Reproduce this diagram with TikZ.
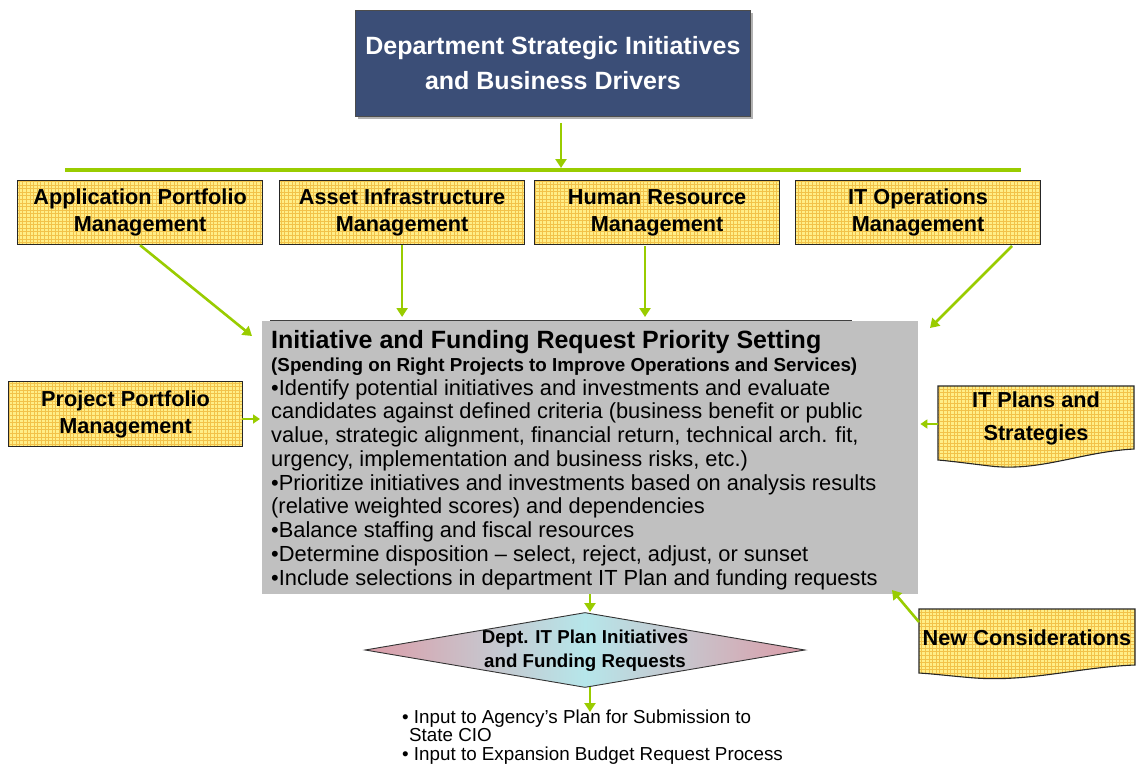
\documentclass[tikz,border=0pt]{standalone}
\usepackage{fontspec}
\setmainfont{Liberation Sans}
\usetikzlibrary{arrows.meta,shapes.geometric}
\definecolor{navy}{HTML}{3B4E77}
\definecolor{grn}{HTML}{99CC00}
\definecolor{yfill}{HTML}{FFEE88}
\definecolor{ygrid}{HTML}{F2C24A}
\definecolor{greyc}{HTML}{C0C0C0}
\definecolor{pinkc}{HTML}{DC9CA8}
\definecolor{cyanc}{HTML}{B6E6EA}
\tikzset{
  arr/.style={draw=grn, line width=2.6pt, -{Triangle[length=9pt,width=11pt]}},
  gridfill/.style={fill=yfill, path picture={\draw[ygrid, line width=0.35pt, step=3.6pt] (path picture bounding box.south west) grid (path picture bounding box.north east);}},
  ybox/.style={gridfill, draw=black!85, line width=1.2pt, align=center, inner sep=0,
    font=\bfseries\fontsize{21.7}{27}\selectfont, minimum width=245, minimum height=64, anchor=north west},
  ytext/.style={align=center, inner sep=0, font=\bfseries\fontsize{21.7}{33}\selectfont},
}
\begin{document}
\begin{tikzpicture}[x=1pt,y=-1pt]
\useasboundingbox (0,0) rectangle (1136,766);
% top box
\fill[gray!60] (358,13) rectangle (753,119);
\node[fill=navy, draw=black!70, line width=0.8pt, minimum width=395, minimum height=106, anchor=north west, inner sep=0,
  text=white, align=center, font=\bfseries\fontsize{25}{35}\selectfont] (top) at (355,10)
  {Department Strategic Initiatives\\and Business Drivers};
% bus
\coordinate (busL) at (65,170);
\coordinate (busR) at (1021,170);
\coordinate (bus) at (561,168);
\draw[grn, line width=3.8pt] (busL) -- (busR);
\draw[arr, shorten <=6pt] (top.south -| bus) -- (bus);
% four boxes
\node[ybox] (apm) at (17,180) {Application Portfolio\\Management};
\node[ybox] (aim) at (279,180) {Asset Infrastructure\\Management};
\node[ybox] (hrm) at (534,180) {Human Resource\\Management};
\node[ybox] (itom) at (795,180) {IT Operations\\Management};
% central box
\draw[black!75, line width=1pt] (270,320.5) -- (852,320.5);
\node[fill=greyc, minimum width=656, minimum height=273, anchor=north west, inner sep=0] (prio) at (262,321) {};
\node[anchor=north west, inner sep=0, text width=645, align=left] (priotext) at (271,330)
 {\spaceskip=0pt \xspaceskip=0pt
  \fontsize{25}{22}\selectfont\bfseries Initiative and Funding Request Priority Setting\par
  \fontsize{18.8}{23}\selectfont (Spending on Right Projects to Improve Operations and Services)\par
  \fontsize{21.85}{23.75}\selectfont\mdseries
  •Identify potential initiatives and investments and evaluate\\
  candidates against defined criteria (business benefit or public\\
  value, strategic alignment, financial return, technical arch. fit,\\
  urgency, implementation and business risks, etc.)\\
  •Prioritize initiatives and investments based on analysis results\\
  (relative weighted scores) and dependencies\\
  •Balance staffing and fiscal resources\\
  •Determine disposition – select, reject, adjust, or sunset\\
  •Include selections in department IT Plan and funding requests\par};
% arrows into central box
\coordinate (apmEnd) at (252,336);
\coordinate (hrmS) at (645,246);
\coordinate (hrmEnd) at (645,317);
\coordinate (itomS) at (1012,246);
\coordinate (itomEnd) at (930,328);
\draw[arr] (apm.south) -- (apmEnd);
\draw[arr, shorten >=4pt] (aim.south) -- (aim.south |- prio.north);
\draw[arr] (hrmS) -- (hrmEnd);
\draw[arr] (itomS) -- (itomEnd);
% project portfolio
\node[ybox, minimum width=234, minimum height=65] (ppm) at (8,381) {Project Portfolio\\Management};
\coordinate (ppmE) at (242,419);
\draw[arr, line width=2pt, -{Triangle[length=7pt,width=9pt]}, shorten >=2pt] (ppmE) -- (prio.west |- ppmE);
% IT plans (document shape)
\path[gridfill, draw=black!85, line width=1.1pt]
  (938,386) -- (1134,386) -- (1134,449) .. controls (1080,452) and (1040,472) .. (990,466)
  .. controls (965,463) and (950,461) .. (938,460) -- cycle;
\node[ytext] (itp) at (1036,418) {IT Plans and\\Strategies};
\coordinate (itpL) at (938,424);
\draw[arr, line width=2pt, -{Triangle[length=7pt,width=9pt]}, shorten >=2pt] (itpL) -- (prio.east |- itpL);
% New considerations
\path[gridfill, draw=black!85, line width=1.1pt]
  (919,609) -- (1135,609) -- (1135,665) .. controls (1080,667) and (1030,682) .. (975,678)
  .. controls (950,676) and (935,674) .. (919,673) -- cycle;
\node[ytext] (nc) at (1027,638) {New Considerations};
\coordinate (ncS) at (919,622);
\coordinate (ncE) at (892,590);
\draw[arr] (ncS) -- (ncE);
% diamond
\node[diamond, draw=black!80, line width=0.9pt, minimum width=440, minimum height=75, inner sep=0,
  left color=pinkc, right color=pinkc, middle color=cyanc] (dia) at (585,650) {};
\node[align=center, inner sep=0, font=\bfseries\fontsize{18.7}{24}\selectfont] (diatext) at (585,651)
  {Dept. IT Plan Initiatives\\and Funding Requests};
\coordinate (dTop) at (590,612);
\coordinate (dBot) at (590,687);
\coordinate (outTop) at (590,712);
\draw[arr] (prio.south -| dTop) -- (dTop);
\draw[arr] (dBot) -- (outTop);
% output text
\node[anchor=north west, inner sep=0, align=left, font=\fontsize{18.8}{17.5}\selectfont] (out) at (402,710)
  {• Input to Agency’s Plan for Submission to\\
   \hspace*{7pt}State CIO\\[2pt]
   • Input to Expansion Budget Request Process};
\end{tikzpicture}
\end{document}
